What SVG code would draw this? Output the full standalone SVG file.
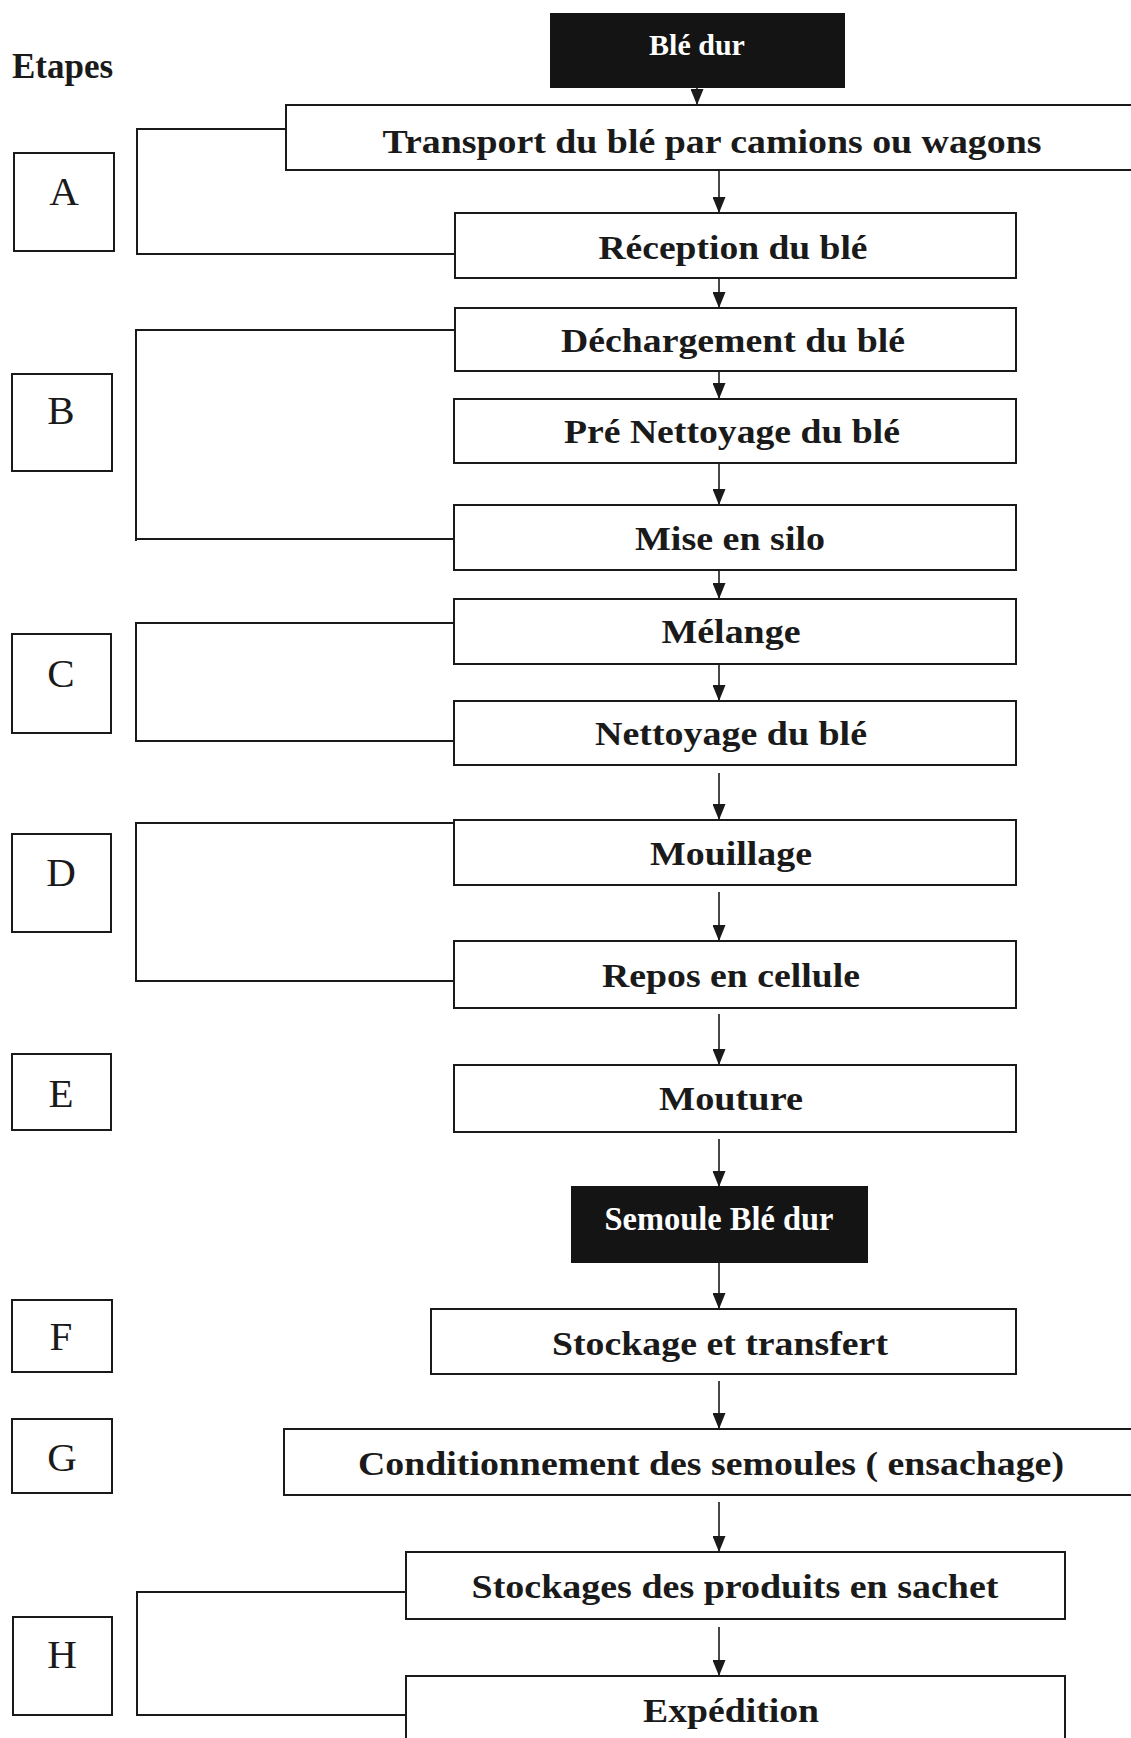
<svg xmlns="http://www.w3.org/2000/svg" width="1131" height="1738" viewBox="0 0 1131 1738">
<style>
.bx{fill:#fff;stroke:#1a1a1a;stroke-width:2}
.dk{fill:#141414;stroke:#141414;stroke-width:2}
.lb{fill:#fff;stroke:#1a1a1a;stroke-width:2}
.t{font-family:"Liberation Serif","Times New Roman",serif;font-weight:bold;font-size:34px;fill:#1a1a1a;text-anchor:middle}
.tw{font-family:"Liberation Serif","Times New Roman",serif;font-weight:bold;fill:#fff;text-anchor:middle}
.l{font-family:"Liberation Serif","Times New Roman",serif;font-size:41px;fill:#1a1a1a;text-anchor:middle}
.c{fill:none;stroke:#1a1a1a;stroke-width:1.6}
.br{fill:none;stroke:#1a1a1a;stroke-width:2}
</style>
<defs>
<marker id="ah" markerUnits="userSpaceOnUse" markerWidth="16" markerHeight="13" viewBox="0 0 16 13" refX="16" refY="6.5" orient="auto">
<path d="M0,0 L16,6.5 L0,13 z" fill="#1a1a1a"/>
</marker>
</defs>
<rect width="1131" height="1738" fill="#fff"/>
<text x="12" y="78" font-family="Liberation Serif,serif" font-weight="bold" font-size="35" fill="#1a1a1a">Etapes</text>

<g id="connectors">
<line class="c" x1="697" y1="87" x2="697" y2="105" marker-end="url(#ah)"/>
<line class="c" x1="719" y1="166" x2="719" y2="213" marker-end="url(#ah)"/>
<line class="c" x1="719" y1="272" x2="719" y2="308" marker-end="url(#ah)"/>
<line class="c" x1="719" y1="365" x2="719" y2="399" marker-end="url(#ah)"/>
<line class="c" x1="719" y1="458" x2="719" y2="505" marker-end="url(#ah)"/>
<line class="c" x1="719" y1="563" x2="719" y2="599" marker-end="url(#ah)"/>
<line class="c" x1="719" y1="664" x2="719" y2="701" marker-end="url(#ah)"/>
<line class="c" x1="719" y1="773" x2="719" y2="820" marker-end="url(#ah)"/>
<line class="c" x1="719" y1="892" x2="719" y2="941" marker-end="url(#ah)"/>
<line class="c" x1="719" y1="1014" x2="719" y2="1065" marker-end="url(#ah)"/>
<line class="c" x1="719" y1="1139" x2="719" y2="1187" marker-end="url(#ah)"/>
<line class="c" x1="719" y1="1262" x2="719" y2="1309" marker-end="url(#ah)"/>
<line class="c" x1="719" y1="1381" x2="719" y2="1429" marker-end="url(#ah)"/>
<line class="c" x1="719" y1="1502" x2="719" y2="1552" marker-end="url(#ah)"/>
<line class="c" x1="719" y1="1627" x2="719" y2="1676" marker-end="url(#ah)"/>
<path class="br" d="M286,129 H137 V254 H455"/>
<path class="br" d="M455,330 H136 V541 M136,539 H454"/>
<path class="br" d="M454,623 H136 V741 H454"/>
<path class="br" d="M454,823 H136 V981 H454"/>
<path class="br" d="M406,1592 H137 V1715 H406"/>
</g>

<g id="n-bledur"><rect class="dk" x="551" y="14" width="293" height="73"/><text class="tw" x="697" y="55" font-size="30">Blé dur</text></g>
<g id="n-transport"><rect class="bx" x="286" y="105" width="880" height="65"/><text class="t" x="712" y="153" font-size="36" textLength="659" lengthAdjust="spacingAndGlyphs">Transport du blé par camions ou wagons</text></g>
<g id="n-reception"><rect class="bx" x="455" y="213" width="561" height="65"/><text class="t" x="733" y="259" textLength="269" lengthAdjust="spacingAndGlyphs">Réception du blé</text></g>
<g id="n-dechargement"><rect class="bx" x="455" y="308" width="561" height="63"/><text class="t" x="733" y="352" textLength="344" lengthAdjust="spacingAndGlyphs">Déchargement du blé</text></g>
<g id="n-prenettoyage"><rect class="bx" x="454" y="399" width="562" height="64"/><text class="t" x="732" y="443" textLength="336" lengthAdjust="spacingAndGlyphs">Pré Nettoyage du blé</text></g>
<g id="n-silo"><rect class="bx" x="454" y="505" width="562" height="65"/><text class="t" x="730" y="550" textLength="190" lengthAdjust="spacingAndGlyphs">Mise en silo</text></g>
<g id="n-melange"><rect class="bx" x="454" y="599" width="562" height="65"/><text class="t" x="731" y="643" textLength="139" lengthAdjust="spacingAndGlyphs">Mélange</text></g>
<g id="n-nettoyage"><rect class="bx" x="454" y="701" width="562" height="64"/><text class="t" x="731" y="745" textLength="272" lengthAdjust="spacingAndGlyphs">Nettoyage du blé</text></g>
<g id="n-mouillage"><rect class="bx" x="454" y="820" width="562" height="65"/><text class="t" x="731" y="865" textLength="162" lengthAdjust="spacingAndGlyphs">Mouillage</text></g>
<g id="n-repos"><rect class="bx" x="454" y="941" width="562" height="67"/><text class="t" x="731" y="987" textLength="258" lengthAdjust="spacingAndGlyphs">Repos en cellule</text></g>
<g id="n-mouture"><rect class="bx" x="454" y="1065" width="562" height="67"/><text class="t" x="731" y="1110" textLength="144" lengthAdjust="spacingAndGlyphs">Mouture</text></g>
<g id="n-semoule"><rect class="dk" x="572" y="1187" width="295" height="75"/><text class="tw" x="719" y="1230" font-size="33" textLength="229" lengthAdjust="spacingAndGlyphs">Semoule Blé dur</text></g>
<g id="n-stockage"><rect class="bx" x="431" y="1309" width="585" height="65"/><text class="t" x="720" y="1355" textLength="336" lengthAdjust="spacingAndGlyphs">Stockage et transfert</text></g>
<g id="n-conditionnement"><rect class="bx" x="284" y="1429" width="880" height="66"/><text class="t" x="711" y="1475" textLength="706" lengthAdjust="spacingAndGlyphs">Conditionnement des semoules ( ensachage)</text></g>
<g id="n-stockages"><rect class="bx" x="406" y="1552" width="659" height="67"/><text class="t" x="735" y="1598" textLength="527" lengthAdjust="spacingAndGlyphs">Stockages des produits en sachet</text></g>
<g id="n-expedition"><rect class="bx" x="406" y="1676" width="659" height="90"/><text class="t" x="731" y="1722" textLength="176" lengthAdjust="spacingAndGlyphs">Expédition</text></g>

<g id="e-A"><rect class="lb" x="14" y="153" width="100" height="98"/><text class="l" x="64" y="205">A</text></g>
<g id="e-B"><rect class="lb" x="12" y="374" width="100" height="97"/><text class="l" x="61" y="424">B</text></g>
<g id="e-C"><rect class="lb" x="12" y="634" width="99" height="99"/><text class="l" x="61" y="687">C</text></g>
<g id="e-D"><rect class="lb" x="12" y="834" width="99" height="98"/><text class="l" x="61" y="886">D</text></g>
<g id="e-E"><rect class="lb" x="12" y="1054" width="99" height="76"/><text class="l" x="61" y="1107">E</text></g>
<g id="e-F"><rect class="lb" x="12" y="1300" width="100" height="72"/><text class="l" x="61" y="1350">F</text></g>
<g id="e-G"><rect class="lb" x="12" y="1419" width="100" height="74"/><text class="l" x="62" y="1471">G</text></g>
<g id="e-H"><rect class="lb" x="13" y="1617" width="99" height="98"/><text class="l" x="62" y="1668">H</text></g>
</svg>
